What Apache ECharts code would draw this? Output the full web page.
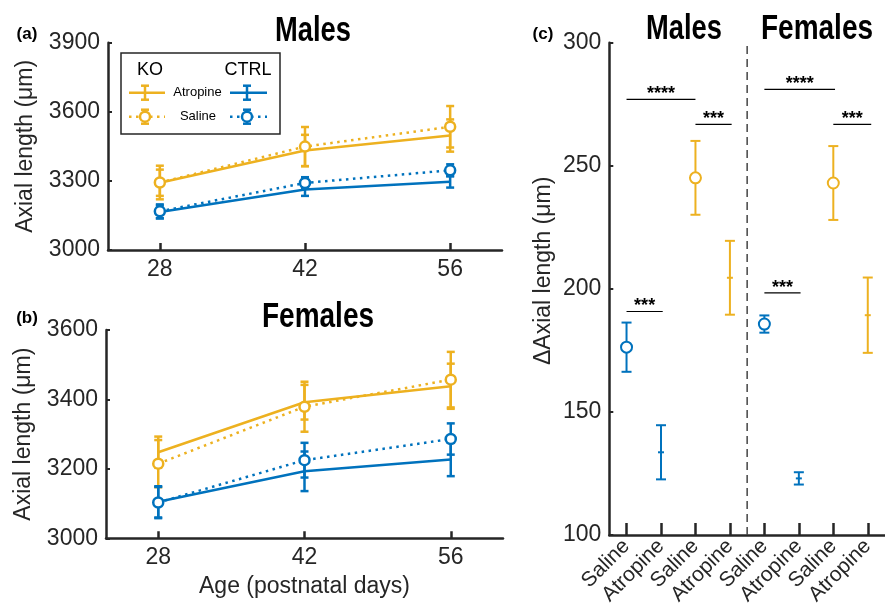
<!DOCTYPE html>
<html>
<head>
<meta charset="utf-8">
<script src="https://cdn.jsdelivr.net/npm/echarts@6/dist/echarts.min.js"></script>
<style>
  html, body { margin: 0; background: #fff; }
  #main { width: 885px; height: 612px; }
</style>
</head>
<body>
<div id="main"></div>
<script>
// ages (postnatal days)
const days = [28, 42, 56];

// (a) males, axial length (um), mean and error
const maleKoAtr = [3292, 3432, 3497];
const maleKoAtrErr = [57, 68, 70];
const maleKoSal = [3293, 3449, 3535];
const maleKoSalErr = [73, 85, 90];
const maleCtrlAtr = [3165, 3263, 3296];
const maleCtrlAtrErr = [28, 28, 25];
const maleCtrlSal = [3168, 3291, 3346];
const maleCtrlSalErr = [30, 25, 26];

// (b) females
const femKoAtr = [3248, 3392, 3438];
const femKoAtrErr = [45, 50, 65];
const femKoSal = [3215, 3379, 3457];
const femKoSalErr = [68, 72, 80];
const femCtrlAtr = [3105, 3193, 3227];
const femCtrlAtrErr = [45, 57, 48];
const femCtrlSal = [3103, 3225, 3286];
const femCtrlSalErr = [45, 50, 45];

// (c) change in axial length
const dCats = ['Saline', 'Atropine', 'Saline', 'Atropine', 'Saline', 'Atropine', 'Saline', 'Atropine'];
const dGroup = ['CTRL', 'CTRL', 'KO', 'KO', 'CTRL', 'CTRL', 'KO', 'KO'];
const dMean = [176.3, 133.6, 245.1, 204.5, 185.7, 123.0, 243.0, 189.3];
const dErr = [10, 11, 15, 15, 3.5, 2.5, 15, 15.3];
const sexDivider = [4.5];
// significance bars: from, to, height, stars
const sigBars = [
  [1, 3, 277, '****'],
  [3, 4.05, 266.8, '***'],
  [1, 2.05, 190.8, '***'],
  [5, 7.05, 281, '****'],
  [7, 8.1, 266.8, '***'],
  [5, 6.05, 198.4, '***']
];

const KO = '#EDB120';
const CTRL = '#0072BD';
const INK = '#262626';
const FONT = '"Liberation Sans", Arial, Helvetica, sans-serif';
const TITLE_FONT = 'bold 35px "Liberation Sans", Arial, sans-serif';

function errBars(idx, xs, ys, es, color) {
  return {
    type: 'custom', xAxisIndex: idx, yAxisIndex: idx, z: 3, silent: true,
    data: xs.map((x, i) => [x, ys[i], es[i]]),
    renderItem: (params, api) => {
      const x = api.value(0), y = api.value(1), e = api.value(2);
      const lo = api.coord([x, y - e]), hi = api.coord([x, y + e]);
      const st = { stroke: color, lineWidth: 2.5, fill: null };
      const w = 4;
      return { type: 'group', children: [
        { type: 'line', shape: { x1: lo[0], y1: lo[1], x2: hi[0], y2: hi[1] }, style: st },
        { type: 'line', shape: { x1: lo[0] - w, y1: lo[1], x2: lo[0] + w, y2: lo[1] }, style: st },
        { type: 'line', shape: { x1: hi[0] - w, y1: hi[1], x2: hi[0] + w, y2: hi[1] }, style: st }
      ]};
    }
  };
}

function lineSeries(idx, xs, ys, color, saline) {
  return {
    type: 'line', xAxisIndex: idx, yAxisIndex: idx, z: 4, silent: true,
    data: xs.map((x, i) => [x, ys[i]]),
    symbol: saline ? 'circle' : 'none', symbolSize: 10,
    itemStyle: { color: '#fff', borderColor: color, borderWidth: 2.5 },
    lineStyle: { color: color, width: 2.5, type: saline ? [2.5, 4.5] : 'solid' }
  };
}

function dayAxis(idx, extra) {
  return Object.assign({
    type: 'value', gridIndex: idx, min: 23, max: 61,
    axisLine: { show: true, lineStyle: { color: INK, width: 2.5 } },
    axisTick: { show: true, inside: true, length: 7, customValues: days, lineStyle: { color: INK, width: 2.5 } },
    axisLabel: { customValues: days, color: INK, fontSize: 23, fontFamily: FONT, margin: 8 },
    splitLine: { show: false }
  }, extra || {});
}

function lenAxis(idx, min, max, step, name, gap, pad) {
  return {
    type: 'value', gridIndex: idx, min: min, max: max, interval: step,
    name: name, nameLocation: 'middle', nameGap: gap,
    nameTextStyle: { color: INK, fontSize: 23, fontFamily: FONT, padding: pad || 0 },
    axisLine: { show: true, lineStyle: { color: INK, width: 2.5 } },
    axisTick: { show: true, inside: true, length: 4, lineStyle: { color: INK, width: 2 } },
    axisLabel: { color: INK, fontSize: 23, fontFamily: FONT, margin: 8, formatter: v => String(v) },
    splitLine: { show: false }
  };
}

function txt(x, y, s, font, color, sx) {
  return { type: 'text', x: x, y: y, z: 20, silent: true, scaleX: sx || 1,
    style: { text: s, font: font, fill: color || '#000', textAlign: 'center', textVerticalAlign: 'middle', align: 'center', verticalAlign: 'middle' } };
}
function seg(x1, y1, x2, y2, color, dash) {
  return { type: 'line', z: 20, silent: true, shape: { x1: x1, y1: y1, x2: x2, y2: y2 },
    style: { stroke: color, lineWidth: 2.5, lineDash: dash || null } };
}
function legendErr(x, y, color) {
  return [seg(x, y - 7, x, y + 7, color), seg(x - 4, y - 7, x + 4, y - 7, color), seg(x - 4, y + 7, x + 4, y + 7, color)];
}
function legendCircle(x, y, color) {
  return { type: 'circle', z: 21, silent: true, shape: { cx: x, cy: y, r: 5 },
    style: { fill: '#fff', stroke: color, lineWidth: 2.5 } };
}

const legendFont = '13px ' + FONT;
const legendHead = '18px ' + FONT;
const graphics = [
  txt(313, 31, 'Males', TITLE_FONT, '#000', 0.78),
  txt(318, 317, 'Females', TITLE_FONT, '#000', 0.8),
  txt(684, 29, 'Males', TITLE_FONT, '#000', 0.78),
  txt(817, 29, 'Females', TITLE_FONT, '#000', 0.8),
  txt(27, 34, '(a)', 'bold 17px ' + FONT),
  txt(27, 318, '(b)', 'bold 17px ' + FONT),
  txt(543, 34, '(c)', 'bold 17px ' + FONT),
  { type: 'rect', z: 19, silent: true, shape: { x: 121, y: 53, width: 159, height: 81 },
    style: { fill: '#fff', stroke: INK, lineWidth: 1.5 } },
  txt(150, 70, 'KO', legendHead),
  txt(248, 70, 'CTRL', legendHead),
  seg(129, 92.7, 165, 92.7, KO),
  ...legendErr(145, 92.7, KO),
  txt(197.5, 92.7, 'Atropine', legendFont),
  seg(230, 92.7, 267, 92.7, CTRL),
  ...legendErr(247, 92.7, CTRL),
  seg(129, 116.7, 165, 116.7, KO, [2.5, 4.5]),
  ...legendErr(145, 116.7, KO),
  legendCircle(145, 116.7, KO),
  txt(198, 116.7, 'Saline', legendFont),
  seg(230, 116.7, 267, 116.7, CTRL, [2.5, 4.5]),
  ...legendErr(247, 116.7, CTRL),
  legendCircle(247, 116.7, CTRL)
];

const chart = echarts.init(document.getElementById('main'), null, { renderer: 'canvas' });
chart.setOption({
  animation: false,
  backgroundColor: '#fff',
  textStyle: { fontFamily: FONT },
  grid: [
    { left: 108, top: 42.7, width: 394, height: 207.3 },
    { left: 106, top: 330, width: 397, height: 208.3 },
    { left: 609.3, top: 42.7, width: 286.4, height: 492.3 }
  ],
  xAxis: [
    dayAxis(0),
    dayAxis(1, { name: 'Age (postnatal days)', nameLocation: 'middle', nameGap: 37,
      nameTextStyle: { color: INK, fontSize: 23, fontFamily: FONT } }),
    {
      type: 'value', gridIndex: 2, min: 0.5, max: 8.5,
      axisLine: { show: true, lineStyle: { color: INK, width: 2.5 } },
      axisTick: { show: true, inside: true, length: 12, customValues: [1, 2, 3, 4, 5, 6, 7, 8], lineStyle: { color: INK, width: 2.5 } },
      axisLabel: { customValues: [1, 2, 3, 4, 5, 6, 7, 8], rotate: 45, color: INK, fontSize: 21, fontFamily: FONT, margin: 8,
        formatter: v => dCats[Math.round(v) - 1] },
      splitLine: { show: false }
    }
  ],
  yAxis: [
    lenAxis(0, 3000, 3900, 300, 'Axial length (μm)', 71),
    lenAxis(1, 3000, 3600, 200, 'Axial length (μm)', 71),
    lenAxis(2, 100, 300, 50, 'ΔAxial length (μm)', 54, [0, 0, 0, 36])
  ],
  graphic: graphics,
  series: [
    errBars(0, days, maleKoSal, maleKoSalErr, KO),
    errBars(0, days, maleKoAtr, maleKoAtrErr, KO),
    errBars(0, days, maleCtrlSal, maleCtrlSalErr, CTRL),
    errBars(0, days, maleCtrlAtr, maleCtrlAtrErr, CTRL),
    lineSeries(0, days, maleKoAtr, KO, false),
    lineSeries(0, days, maleKoSal, KO, true),
    lineSeries(0, days, maleCtrlAtr, CTRL, false),
    lineSeries(0, days, maleCtrlSal, CTRL, true),

    errBars(1, days, femKoSal, femKoSalErr, KO),
    errBars(1, days, femKoAtr, femKoAtrErr, KO),
    errBars(1, days, femCtrlSal, femCtrlSalErr, CTRL),
    errBars(1, days, femCtrlAtr, femCtrlAtrErr, CTRL),
    lineSeries(1, days, femKoAtr, KO, false),
    lineSeries(1, days, femKoSal, KO, true),
    lineSeries(1, days, femCtrlAtr, CTRL, false),
    lineSeries(1, days, femCtrlSal, CTRL, true),

    {
      // dashed line between males and females
      type: 'custom', xAxisIndex: 2, yAxisIndex: 2, z: 2, silent: true,
      data: sexDivider.map(x => [x]),
      renderItem: (params, api) => {
        const a = api.coord([api.value(0), 100]), b = api.coord([api.value(0), 300]);
        return { type: 'line', shape: { x1: a[0], y1: a[1], x2: b[0], y2: b[1] },
          style: { stroke: '#444', lineWidth: 1.5, lineDash: [8, 5] } };
      }
    },
    {
      type: 'custom', xAxisIndex: 2, yAxisIndex: 2, z: 3, silent: true,
      data: dMean.map((m, i) => [i + 1, m, dErr[i], i]),
      renderItem: (params, api) => {
        const i = api.value(3);
        const color = dGroup[i] === 'KO' ? KO : CTRL;
        const x = api.value(0), y = api.value(1), e = api.value(2);
        const lo = api.coord([x, y - e]), hi = api.coord([x, y + e]), c = api.coord([x, y]);
        const st = { stroke: color, lineWidth: 2, fill: null };
        const w = 5;
        const kids = [
          { type: 'line', shape: { x1: lo[0], y1: lo[1], x2: hi[0], y2: hi[1] }, style: st },
          { type: 'line', shape: { x1: lo[0] - w, y1: lo[1], x2: lo[0] + w, y2: lo[1] }, style: st },
          { type: 'line', shape: { x1: hi[0] - w, y1: hi[1], x2: hi[0] + w, y2: hi[1] }, style: st }
        ];
        if (dCats[i] === 'Saline') {
          kids.push({ type: 'circle', shape: { cx: c[0], cy: c[1], r: 5.5 }, style: { fill: '#fff', stroke: color, lineWidth: 2 } });
        } else {
          kids.push({ type: 'line', shape: { x1: c[0] - 3, y1: c[1], x2: c[0] + 3, y2: c[1] }, style: st });
        }
        return { type: 'group', children: kids };
      }
    },
    {
      type: 'custom', xAxisIndex: 2, yAxisIndex: 2, z: 3, silent: true,
      data: sigBars,
      renderItem: (params, api) => {
        const a = api.coord([api.value(0), api.value(2)]), b = api.coord([api.value(1), api.value(2)]);
        const s = sigBars[params.dataIndex][3];
        return { type: 'group', children: [
          { type: 'line', shape: { x1: a[0], y1: a[1], x2: b[0], y2: b[1] }, style: { stroke: '#000', lineWidth: 1.2 } },
          { type: 'text', x: (a[0] + b[0]) / 2, y: a[1] - 5,
            style: { text: s, font: 'bold 18px ' + FONT, fill: '#000', textAlign: 'center', textVerticalAlign: 'middle', align: 'center', verticalAlign: 'middle' } }
        ]};
      }
    }
  ]
});
</script>
</body>
</html>
